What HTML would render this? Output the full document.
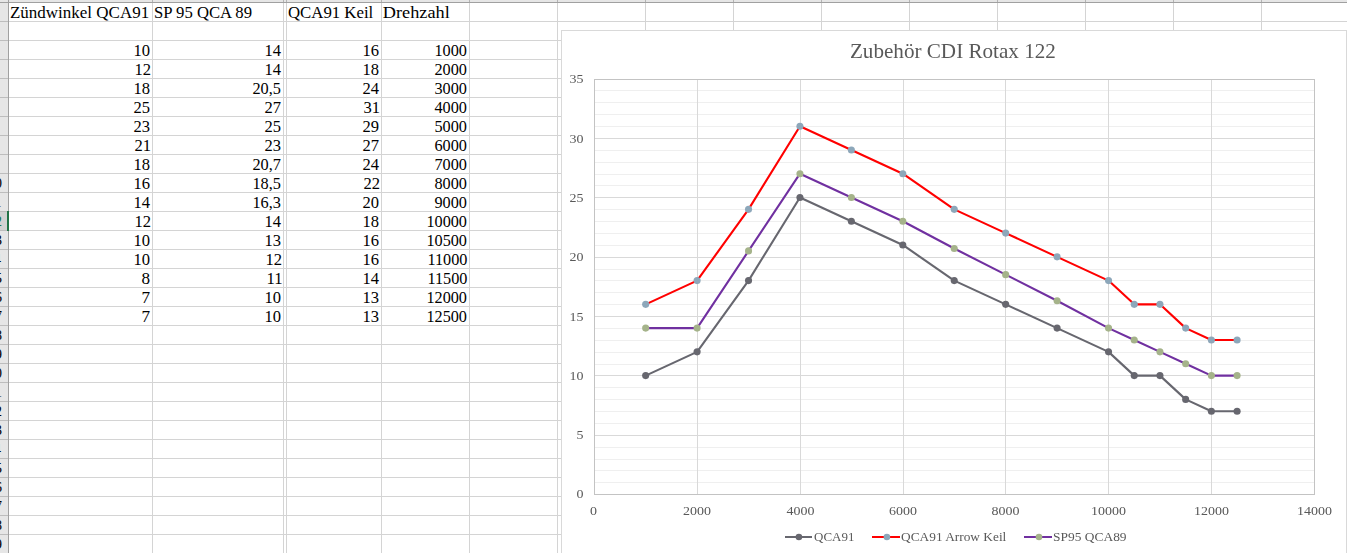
<!DOCTYPE html>
<html><head><meta charset="utf-8">
<style>
*{margin:0;padding:0}
html,body{width:1347px;height:553px;overflow:hidden;background:#fff}
svg{position:absolute;left:0;top:0;font-family:"Liberation Serif",serif}
</style></head><body>
<svg width="1347" height="553" shape-rendering="crispEdges">

<rect x="0" y="0" width="1347" height="2" fill="#e6e6e6"/>
<rect x="9" y="21" width="1338" height="1" fill="#d4d4d4"/>
<rect x="9" y="40" width="1338" height="1" fill="#d4d4d4"/>
<rect x="9" y="59" width="1338" height="1" fill="#d4d4d4"/>
<rect x="9" y="78" width="1338" height="1" fill="#d4d4d4"/>
<rect x="9" y="97" width="1338" height="1" fill="#d4d4d4"/>
<rect x="9" y="116" width="1338" height="1" fill="#d4d4d4"/>
<rect x="9" y="135" width="1338" height="1" fill="#d4d4d4"/>
<rect x="9" y="154" width="1338" height="1" fill="#d4d4d4"/>
<rect x="9" y="173" width="1338" height="1" fill="#d4d4d4"/>
<rect x="9" y="192" width="1338" height="1" fill="#d4d4d4"/>
<rect x="9" y="211" width="1338" height="1" fill="#d4d4d4"/>
<rect x="9" y="230" width="1338" height="1" fill="#d4d4d4"/>
<rect x="9" y="249" width="1338" height="1" fill="#d4d4d4"/>
<rect x="9" y="268" width="1338" height="1" fill="#d4d4d4"/>
<rect x="9" y="287" width="1338" height="1" fill="#d4d4d4"/>
<rect x="9" y="306" width="1338" height="1" fill="#d4d4d4"/>
<rect x="9" y="325" width="1338" height="1" fill="#d4d4d4"/>
<rect x="9" y="344" width="1338" height="1" fill="#d4d4d4"/>
<rect x="9" y="363" width="1338" height="1" fill="#d4d4d4"/>
<rect x="9" y="382" width="1338" height="1" fill="#d4d4d4"/>
<rect x="9" y="401" width="1338" height="1" fill="#d4d4d4"/>
<rect x="9" y="420" width="1338" height="1" fill="#d4d4d4"/>
<rect x="9" y="439" width="1338" height="1" fill="#d4d4d4"/>
<rect x="9" y="458" width="1338" height="1" fill="#d4d4d4"/>
<rect x="9" y="477" width="1338" height="1" fill="#d4d4d4"/>
<rect x="9" y="496" width="1338" height="1" fill="#d4d4d4"/>
<rect x="9" y="515" width="1338" height="1" fill="#d4d4d4"/>
<rect x="9" y="534" width="1338" height="1" fill="#d4d4d4"/>
<rect x="152" y="0" width="1" height="553" fill="#d4d4d4"/>
<rect x="152" y="0" width="1" height="2" fill="#b4b4b4"/>
<rect x="283" y="0" width="1" height="553" fill="#d4d4d4"/>
<rect x="283" y="0" width="1" height="2" fill="#b4b4b4"/>
<rect x="286" y="0" width="1" height="553" fill="#d4d4d4"/>
<rect x="286" y="0" width="1" height="2" fill="#b4b4b4"/>
<rect x="381" y="0" width="1" height="553" fill="#d4d4d4"/>
<rect x="381" y="0" width="1" height="2" fill="#b4b4b4"/>
<rect x="469" y="0" width="1" height="553" fill="#d4d4d4"/>
<rect x="469" y="0" width="1" height="2" fill="#b4b4b4"/>
<rect x="557" y="0" width="1" height="553" fill="#d4d4d4"/>
<rect x="557" y="0" width="1" height="2" fill="#b4b4b4"/>
<rect x="645" y="0" width="1" height="553" fill="#d4d4d4"/>
<rect x="645" y="0" width="1" height="2" fill="#b4b4b4"/>
<rect x="733" y="0" width="1" height="553" fill="#d4d4d4"/>
<rect x="733" y="0" width="1" height="2" fill="#b4b4b4"/>
<rect x="821" y="0" width="1" height="553" fill="#d4d4d4"/>
<rect x="821" y="0" width="1" height="2" fill="#b4b4b4"/>
<rect x="909" y="0" width="1" height="553" fill="#d4d4d4"/>
<rect x="909" y="0" width="1" height="2" fill="#b4b4b4"/>
<rect x="997" y="0" width="1" height="553" fill="#d4d4d4"/>
<rect x="997" y="0" width="1" height="2" fill="#b4b4b4"/>
<rect x="1085" y="0" width="1" height="553" fill="#d4d4d4"/>
<rect x="1085" y="0" width="1" height="2" fill="#b4b4b4"/>
<rect x="1173" y="0" width="1" height="553" fill="#d4d4d4"/>
<rect x="1173" y="0" width="1" height="2" fill="#b4b4b4"/>
<rect x="1261" y="0" width="1" height="553" fill="#d4d4d4"/>
<rect x="1261" y="0" width="1" height="2" fill="#b4b4b4"/>
<rect x="0" y="2" width="1347" height="1" fill="#a0a0a0"/>
<rect x="0" y="0" width="8" height="553" fill="#e6e6e6"/>
<rect x="0" y="211" width="7" height="19" fill="#d2d2d2"/>
<rect x="0" y="21" width="8" height="1" fill="#bdbdbd"/>
<rect x="0" y="40" width="8" height="1" fill="#bdbdbd"/>
<rect x="0" y="59" width="8" height="1" fill="#bdbdbd"/>
<rect x="0" y="78" width="8" height="1" fill="#bdbdbd"/>
<rect x="0" y="97" width="8" height="1" fill="#bdbdbd"/>
<rect x="0" y="116" width="8" height="1" fill="#bdbdbd"/>
<rect x="0" y="135" width="8" height="1" fill="#bdbdbd"/>
<rect x="0" y="154" width="8" height="1" fill="#bdbdbd"/>
<rect x="0" y="173" width="8" height="1" fill="#bdbdbd"/>
<rect x="0" y="192" width="8" height="1" fill="#bdbdbd"/>
<rect x="0" y="211" width="8" height="1" fill="#bdbdbd"/>
<rect x="0" y="230" width="8" height="1" fill="#bdbdbd"/>
<rect x="0" y="249" width="8" height="1" fill="#bdbdbd"/>
<rect x="0" y="268" width="8" height="1" fill="#bdbdbd"/>
<rect x="0" y="287" width="8" height="1" fill="#bdbdbd"/>
<rect x="0" y="306" width="8" height="1" fill="#bdbdbd"/>
<rect x="0" y="325" width="8" height="1" fill="#bdbdbd"/>
<rect x="0" y="344" width="8" height="1" fill="#bdbdbd"/>
<rect x="0" y="363" width="8" height="1" fill="#bdbdbd"/>
<rect x="0" y="382" width="8" height="1" fill="#bdbdbd"/>
<rect x="0" y="401" width="8" height="1" fill="#bdbdbd"/>
<rect x="0" y="420" width="8" height="1" fill="#bdbdbd"/>
<rect x="0" y="439" width="8" height="1" fill="#bdbdbd"/>
<rect x="0" y="458" width="8" height="1" fill="#bdbdbd"/>
<rect x="0" y="477" width="8" height="1" fill="#bdbdbd"/>
<rect x="0" y="496" width="8" height="1" fill="#bdbdbd"/>
<rect x="0" y="515" width="8" height="1" fill="#bdbdbd"/>
<rect x="0" y="534" width="8" height="1" fill="#bdbdbd"/>
<rect x="8" y="0" width="1" height="553" fill="#a0a0a0"/>
<rect x="0" y="2" width="9" height="1" fill="#a0a0a0"/>
<rect x="7" y="211" width="2" height="20" fill="#217346"/>
<rect x="561" y="30" width="786" height="523" fill="#fff"/>
<rect x="561" y="30" width="786" height="1" fill="#d9d9d9"/>
<rect x="561" y="30" width="1" height="523" fill="#d9d9d9"/>
<rect x="1346" y="30" width="1" height="523" fill="#d9d9d9"/>
<rect x="594" y="90" width="720" height="1" fill="#efefef"/>
<rect x="594" y="102" width="720" height="1" fill="#efefef"/>
<rect x="594" y="114" width="720" height="1" fill="#efefef"/>
<rect x="594" y="126" width="720" height="1" fill="#efefef"/>
<rect x="594" y="138" width="720" height="1" fill="#d9d9d9"/>
<rect x="594" y="150" width="720" height="1" fill="#efefef"/>
<rect x="594" y="162" width="720" height="1" fill="#efefef"/>
<rect x="594" y="174" width="720" height="1" fill="#efefef"/>
<rect x="594" y="185" width="720" height="1" fill="#efefef"/>
<rect x="594" y="197" width="720" height="1" fill="#d9d9d9"/>
<rect x="594" y="209" width="720" height="1" fill="#efefef"/>
<rect x="594" y="221" width="720" height="1" fill="#efefef"/>
<rect x="594" y="233" width="720" height="1" fill="#efefef"/>
<rect x="594" y="245" width="720" height="1" fill="#efefef"/>
<rect x="594" y="257" width="720" height="1" fill="#d9d9d9"/>
<rect x="594" y="269" width="720" height="1" fill="#efefef"/>
<rect x="594" y="280" width="720" height="1" fill="#efefef"/>
<rect x="594" y="292" width="720" height="1" fill="#efefef"/>
<rect x="594" y="304" width="720" height="1" fill="#efefef"/>
<rect x="594" y="316" width="720" height="1" fill="#d9d9d9"/>
<rect x="594" y="328" width="720" height="1" fill="#efefef"/>
<rect x="594" y="340" width="720" height="1" fill="#efefef"/>
<rect x="594" y="352" width="720" height="1" fill="#efefef"/>
<rect x="594" y="364" width="720" height="1" fill="#efefef"/>
<rect x="594" y="375" width="720" height="1" fill="#d9d9d9"/>
<rect x="594" y="387" width="720" height="1" fill="#efefef"/>
<rect x="594" y="399" width="720" height="1" fill="#efefef"/>
<rect x="594" y="411" width="720" height="1" fill="#efefef"/>
<rect x="594" y="423" width="720" height="1" fill="#efefef"/>
<rect x="594" y="435" width="720" height="1" fill="#d9d9d9"/>
<rect x="594" y="447" width="720" height="1" fill="#efefef"/>
<rect x="594" y="459" width="720" height="1" fill="#efefef"/>
<rect x="594" y="470" width="720" height="1" fill="#efefef"/>
<rect x="594" y="482" width="720" height="1" fill="#efefef"/>
<rect x="697" y="79" width="1" height="415" fill="#d9d9d9"/>
<rect x="800" y="79" width="1" height="415" fill="#d9d9d9"/>
<rect x="903" y="79" width="1" height="415" fill="#d9d9d9"/>
<rect x="1005" y="79" width="1" height="415" fill="#d9d9d9"/>
<rect x="1108" y="79" width="1" height="415" fill="#d9d9d9"/>
<rect x="1211" y="79" width="1" height="415" fill="#d9d9d9"/>
<rect x="594" y="79" width="721" height="1" fill="#c3c3c3"/>
<rect x="594" y="494" width="721" height="1" fill="#c3c3c3"/>
<rect x="594" y="79" width="1" height="416" fill="#c3c3c3"/>
<rect x="1314" y="79" width="1" height="416" fill="#c3c3c3"/>
<g shape-rendering="geometricPrecision">
<polyline points="645.67,375.62 697.10,351.86 748.53,280.60 799.95,197.45 851.38,221.21 902.81,244.96 954.24,280.60 1005.67,304.35 1057.10,328.11 1108.53,351.86 1134.24,375.62 1159.95,375.62 1185.67,399.38 1211.38,411.25 1237.10,411.25" fill="none" stroke="#67676f" stroke-width="2.1" stroke-linejoin="round"/>
<circle cx="645.67" cy="375.62" r="3.55" fill="#67676f"/>
<circle cx="697.10" cy="351.86" r="3.55" fill="#67676f"/>
<circle cx="748.53" cy="280.60" r="3.55" fill="#67676f"/>
<circle cx="799.95" cy="197.45" r="3.55" fill="#67676f"/>
<circle cx="851.38" cy="221.21" r="3.55" fill="#67676f"/>
<circle cx="902.81" cy="244.96" r="3.55" fill="#67676f"/>
<circle cx="954.24" cy="280.60" r="3.55" fill="#67676f"/>
<circle cx="1005.67" cy="304.35" r="3.55" fill="#67676f"/>
<circle cx="1057.10" cy="328.11" r="3.55" fill="#67676f"/>
<circle cx="1108.53" cy="351.86" r="3.55" fill="#67676f"/>
<circle cx="1134.24" cy="375.62" r="3.55" fill="#67676f"/>
<circle cx="1159.95" cy="375.62" r="3.55" fill="#67676f"/>
<circle cx="1185.67" cy="399.38" r="3.55" fill="#67676f"/>
<circle cx="1211.38" cy="411.25" r="3.55" fill="#67676f"/>
<circle cx="1237.10" cy="411.25" r="3.55" fill="#67676f"/>
<polyline points="645.67,304.35 697.10,280.60 748.53,209.33 799.95,126.18 851.38,149.94 902.81,173.69 954.24,209.33 1005.67,233.08 1057.10,256.84 1108.53,280.60 1134.24,304.35 1159.95,304.35 1185.67,328.11 1211.38,339.99 1237.10,339.99" fill="none" stroke="#ff0000" stroke-width="2.1" stroke-linejoin="round"/>
<circle cx="645.67" cy="304.35" r="3.55" fill="#8da7ba"/>
<circle cx="697.10" cy="280.60" r="3.55" fill="#8da7ba"/>
<circle cx="748.53" cy="209.33" r="3.55" fill="#8da7ba"/>
<circle cx="799.95" cy="126.18" r="3.55" fill="#8da7ba"/>
<circle cx="851.38" cy="149.94" r="3.55" fill="#8da7ba"/>
<circle cx="902.81" cy="173.69" r="3.55" fill="#8da7ba"/>
<circle cx="954.24" cy="209.33" r="3.55" fill="#8da7ba"/>
<circle cx="1005.67" cy="233.08" r="3.55" fill="#8da7ba"/>
<circle cx="1057.10" cy="256.84" r="3.55" fill="#8da7ba"/>
<circle cx="1108.53" cy="280.60" r="3.55" fill="#8da7ba"/>
<circle cx="1134.24" cy="304.35" r="3.55" fill="#8da7ba"/>
<circle cx="1159.95" cy="304.35" r="3.55" fill="#8da7ba"/>
<circle cx="1185.67" cy="328.11" r="3.55" fill="#8da7ba"/>
<circle cx="1211.38" cy="339.99" r="3.55" fill="#8da7ba"/>
<circle cx="1237.10" cy="339.99" r="3.55" fill="#8da7ba"/>
<polyline points="645.67,328.11 697.10,328.11 748.53,250.90 799.95,173.69 851.38,197.45 902.81,221.21 954.24,248.53 1005.67,274.66 1057.10,300.79 1108.53,328.11 1134.24,339.99 1159.95,351.86 1185.67,363.74 1211.38,375.62 1237.10,375.62" fill="none" stroke="#7030a0" stroke-width="2.1" stroke-linejoin="round"/>
<circle cx="645.67" cy="328.11" r="3.55" fill="#a5b38a"/>
<circle cx="697.10" cy="328.11" r="3.55" fill="#a5b38a"/>
<circle cx="748.53" cy="250.90" r="3.55" fill="#a5b38a"/>
<circle cx="799.95" cy="173.69" r="3.55" fill="#a5b38a"/>
<circle cx="851.38" cy="197.45" r="3.55" fill="#a5b38a"/>
<circle cx="902.81" cy="221.21" r="3.55" fill="#a5b38a"/>
<circle cx="954.24" cy="248.53" r="3.55" fill="#a5b38a"/>
<circle cx="1005.67" cy="274.66" r="3.55" fill="#a5b38a"/>
<circle cx="1057.10" cy="300.79" r="3.55" fill="#a5b38a"/>
<circle cx="1108.53" cy="328.11" r="3.55" fill="#a5b38a"/>
<circle cx="1134.24" cy="339.99" r="3.55" fill="#a5b38a"/>
<circle cx="1159.95" cy="351.86" r="3.55" fill="#a5b38a"/>
<circle cx="1185.67" cy="363.74" r="3.55" fill="#a5b38a"/>
<circle cx="1211.38" cy="375.62" r="3.55" fill="#a5b38a"/>
<circle cx="1237.10" cy="375.62" r="3.55" fill="#a5b38a"/>
<rect x="785" y="536" width="27" height="2" fill="#67676f"/>
<circle cx="798.9" cy="537" r="3.3" fill="#67676f"/>
<rect x="872" y="536" width="28" height="2" fill="#ff0000"/>
<circle cx="886.9" cy="537" r="3.3" fill="#8da7ba"/>
<rect x="1024" y="536" width="28" height="2" fill="#7030a0"/>
<circle cx="1039.0" cy="537" r="3.3" fill="#a5b38a"/>
<text transform="translate(9.94,18) scale(1.0620,1.0)" font-size="16" fill="#000">Zündwinkel QCA91</text>
<text transform="translate(153.96,18) scale(1.0430,1.0)" font-size="16" fill="#000">SP 95 QCA 89</text>
<text transform="translate(287.95,18) scale(1.0500,1.0)" font-size="16" fill="#000">QCA91 Keil</text>
<text transform="translate(382.86,18) scale(1.1404,1.0)" font-size="16" fill="#000">Drehzahl</text>
<text transform="translate(133.43,56) scale(1.0357,1.0)" font-size="16" fill="#000">10</text>
<text transform="translate(264.43,56) scale(1.0357,1.0)" font-size="16" fill="#000">14</text>
<text transform="translate(362.43,56) scale(1.0357,1.0)" font-size="16" fill="#000">16</text>
<text transform="translate(434.47,56) scale(1.0167,1.0)" font-size="16" fill="#000">1000</text>
<text transform="translate(134.42,75) scale(1.0385,1.0)" font-size="16" fill="#000">12</text>
<text transform="translate(264.43,75) scale(1.0357,1.0)" font-size="16" fill="#000">14</text>
<text transform="translate(362.43,75) scale(1.0357,1.0)" font-size="16" fill="#000">18</text>
<text transform="translate(434.48,75) scale(1.0161,1.0)" font-size="16" fill="#000">2000</text>
<text transform="translate(133.43,94) scale(1.0357,1.0)" font-size="16" fill="#000">18</text>
<text transform="translate(252.48,94) scale(1.0185,1.0)" font-size="16" fill="#000">20,5</text>
<text transform="translate(362.47,94) scale(1.0333,1.0)" font-size="16" fill="#000">24</text>
<text transform="translate(434.48,94) scale(1.0161,1.0)" font-size="16" fill="#000">3000</text>
<text transform="translate(133.47,113) scale(1.0333,1.0)" font-size="16" fill="#000">25</text>
<text transform="translate(264.47,113) scale(1.0333,1.0)" font-size="16" fill="#000">27</text>
<text transform="translate(363.46,113) scale(1.0357,1.0)" font-size="16" fill="#000">31</text>
<text transform="translate(434.50,113) scale(1.0156,1.0)" font-size="16" fill="#000">4000</text>
<text transform="translate(133.47,132) scale(1.0333,1.0)" font-size="16" fill="#000">23</text>
<text transform="translate(264.47,132) scale(1.0333,1.0)" font-size="16" fill="#000">25</text>
<text transform="translate(362.47,132) scale(1.0333,1.0)" font-size="16" fill="#000">29</text>
<text transform="translate(434.48,132) scale(1.0161,1.0)" font-size="16" fill="#000">5000</text>
<text transform="translate(134.46,151) scale(1.0357,1.0)" font-size="16" fill="#000">21</text>
<text transform="translate(264.47,151) scale(1.0333,1.0)" font-size="16" fill="#000">23</text>
<text transform="translate(362.47,151) scale(1.0333,1.0)" font-size="16" fill="#000">27</text>
<text transform="translate(434.48,151) scale(1.0161,1.0)" font-size="16" fill="#000">6000</text>
<text transform="translate(133.43,170) scale(1.0357,1.0)" font-size="16" fill="#000">18</text>
<text transform="translate(252.48,170) scale(1.0185,1.0)" font-size="16" fill="#000">20,7</text>
<text transform="translate(362.47,170) scale(1.0333,1.0)" font-size="16" fill="#000">24</text>
<text transform="translate(434.48,170) scale(1.0161,1.0)" font-size="16" fill="#000">7000</text>
<text transform="translate(133.43,189) scale(1.0357,1.0)" font-size="16" fill="#000">16</text>
<text transform="translate(252.46,189) scale(1.0192,1.0)" font-size="16" fill="#000">18,5</text>
<text transform="translate(363.46,189) scale(1.0357,1.0)" font-size="16" fill="#000">22</text>
<text transform="translate(434.48,189) scale(1.0161,1.0)" font-size="16" fill="#000">8000</text>
<text transform="translate(133.43,208) scale(1.0357,1.0)" font-size="16" fill="#000">14</text>
<text transform="translate(252.46,208) scale(1.0192,1.0)" font-size="16" fill="#000">16,3</text>
<text transform="translate(362.47,208) scale(1.0333,1.0)" font-size="16" fill="#000">20</text>
<text transform="translate(434.50,208) scale(1.0156,1.0)" font-size="16" fill="#000">9000</text>
<text transform="translate(134.42,227) scale(1.0385,1.0)" font-size="16" fill="#000">12</text>
<text transform="translate(264.43,227) scale(1.0357,1.0)" font-size="16" fill="#000">14</text>
<text transform="translate(362.43,227) scale(1.0357,1.0)" font-size="16" fill="#000">18</text>
<text transform="translate(426.47,227) scale(1.0132,1.0)" font-size="16" fill="#000">10000</text>
<text transform="translate(133.43,246) scale(1.0357,1.0)" font-size="16" fill="#000">10</text>
<text transform="translate(264.43,246) scale(1.0357,1.0)" font-size="16" fill="#000">13</text>
<text transform="translate(362.43,246) scale(1.0357,1.0)" font-size="16" fill="#000">16</text>
<text transform="translate(426.47,246) scale(1.0132,1.0)" font-size="16" fill="#000">10500</text>
<text transform="translate(133.43,265) scale(1.0357,1.0)" font-size="16" fill="#000">10</text>
<text transform="translate(265.42,265) scale(1.0385,1.0)" font-size="16" fill="#000">12</text>
<text transform="translate(362.43,265) scale(1.0357,1.0)" font-size="16" fill="#000">16</text>
<text transform="translate(427.47,265) scale(1.0135,1.0)" font-size="16" fill="#000">11000</text>
<text transform="translate(141.43,284) scale(1.0714,1.0)" font-size="16" fill="#000">8</text>
<text transform="translate(266.42,284) scale(1.0417,1.0)" font-size="16" fill="#000">11</text>
<text transform="translate(362.43,284) scale(1.0357,1.0)" font-size="16" fill="#000">14</text>
<text transform="translate(427.47,284) scale(1.0135,1.0)" font-size="16" fill="#000">11500</text>
<text transform="translate(141.43,303) scale(1.0714,1.0)" font-size="16" fill="#000">7</text>
<text transform="translate(264.43,303) scale(1.0357,1.0)" font-size="16" fill="#000">10</text>
<text transform="translate(362.43,303) scale(1.0357,1.0)" font-size="16" fill="#000">13</text>
<text transform="translate(426.47,303) scale(1.0132,1.0)" font-size="16" fill="#000">12000</text>
<text transform="translate(141.43,322) scale(1.0714,1.0)" font-size="16" fill="#000">7</text>
<text transform="translate(264.43,322) scale(1.0357,1.0)" font-size="16" fill="#000">10</text>
<text transform="translate(362.43,322) scale(1.0357,1.0)" font-size="16" fill="#000">13</text>
<text transform="translate(426.47,322) scale(1.0132,1.0)" font-size="16" fill="#000">12500</text>
<text transform="translate(-12.50,188) scale(1.0000,1.0)" font-size="14.5" fill="#000">10</text>
<text transform="translate(-12.50,207) scale(1.0000,1.0)" font-size="14.5" fill="#000">11</text>
<text transform="translate(-12.50,226) scale(1.0000,1.0)" font-size="14.5" fill="#217346">12</text>
<text transform="translate(-12.50,245) scale(1.0000,1.0)" font-size="14.5" fill="#000">13</text>
<text transform="translate(-13.50,264) scale(1.0000,1.0)" font-size="14.5" fill="#000">14</text>
<text transform="translate(-12.50,283) scale(1.0000,1.0)" font-size="14.5" fill="#000">15</text>
<text transform="translate(-12.50,302) scale(1.0000,1.0)" font-size="14.5" fill="#000">16</text>
<text transform="translate(-12.50,321) scale(1.0000,1.0)" font-size="14.5" fill="#000">17</text>
<text transform="translate(-12.50,340) scale(1.0000,1.0)" font-size="14.5" fill="#000">18</text>
<text transform="translate(-12.50,359) scale(1.0000,1.0)" font-size="14.5" fill="#000">19</text>
<text transform="translate(-12.50,378) scale(1.0000,1.0)" font-size="14.5" fill="#000">20</text>
<text transform="translate(-12.50,397) scale(1.0000,1.0)" font-size="14.5" fill="#000">21</text>
<text transform="translate(-12.50,416) scale(1.0000,1.0)" font-size="14.5" fill="#000">22</text>
<text transform="translate(-12.50,435) scale(1.0000,1.0)" font-size="14.5" fill="#000">23</text>
<text transform="translate(-13.50,454) scale(1.0000,1.0)" font-size="14.5" fill="#000">24</text>
<text transform="translate(-12.50,473) scale(1.0000,1.0)" font-size="14.5" fill="#000">25</text>
<text transform="translate(-12.50,492) scale(1.0000,1.0)" font-size="14.5" fill="#000">26</text>
<text transform="translate(-12.50,511) scale(1.0000,1.0)" font-size="14.5" fill="#000">27</text>
<text transform="translate(-12.50,530) scale(1.0000,1.0)" font-size="14.5" fill="#000">28</text>
<text transform="translate(-12.50,549) scale(1.0000,1.0)" font-size="14.5" fill="#000">29</text>
</g></svg>
<svg width="1347" height="553" style="will-change:transform">
<text transform="translate(849.94,58) scale(1.0570,1.0)" font-size="20" fill="#595959">Zubehör CDI Rotax 122</text>
<text transform="translate(576.50,498) scale(1.0000,0.965)" font-size="14" fill="#595959">0</text>
<text transform="translate(576.50,439) scale(1.0000,0.965)" font-size="14" fill="#595959">5</text>
<text transform="translate(569.50,380) scale(1.0000,0.965)" font-size="14" fill="#595959">10</text>
<text transform="translate(569.50,321) scale(1.0000,0.965)" font-size="14" fill="#595959">15</text>
<text transform="translate(569.50,261) scale(1.0000,0.965)" font-size="14" fill="#595959">20</text>
<text transform="translate(569.50,202) scale(1.0000,0.965)" font-size="14" fill="#595959">25</text>
<text transform="translate(569.50,143) scale(1.0000,0.965)" font-size="14" fill="#595959">30</text>
<text transform="translate(569.50,83) scale(1.0000,0.965)" font-size="14" fill="#595959">35</text>
<text transform="translate(590.00,515) scale(1.0000,0.965)" font-size="14" fill="#595959">0</text>
<text transform="translate(683.00,515) scale(1.0000,0.965)" font-size="14" fill="#595959">2000</text>
<text transform="translate(786.50,515) scale(1.0000,0.965)" font-size="14" fill="#595959">4000</text>
<text transform="translate(889.00,515) scale(1.0000,0.965)" font-size="14" fill="#595959">6000</text>
<text transform="translate(991.50,515) scale(1.0000,0.965)" font-size="14" fill="#595959">8000</text>
<text transform="translate(1091.00,515) scale(1.0000,0.965)" font-size="14" fill="#595959">10000</text>
<text transform="translate(1194.00,515) scale(1.0000,0.965)" font-size="14" fill="#595959">12000</text>
<text transform="translate(1297.00,515) scale(1.0000,0.965)" font-size="14" fill="#595959">14000</text>
<text transform="translate(814.07,541) scale(0.9268,0.965)" font-size="14" fill="#595959">QCA91</text>
<text transform="translate(901.05,541) scale(0.9541,0.965)" font-size="14" fill="#595959">QCA91 Arrow Keil</text>
<text transform="translate(1053.04,541) scale(0.9600,0.965)" font-size="14" fill="#595959">SP95 QCA89</text>
</svg></body></html>
